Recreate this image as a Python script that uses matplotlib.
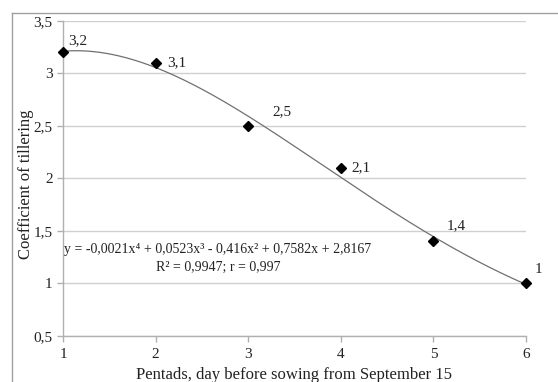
import numpy as np
import matplotlib
matplotlib.use("Agg")
import matplotlib.pyplot as plt
from matplotlib.ticker import FuncFormatter, MultipleLocator
from matplotlib.lines import Line2D

# data
pentads = [1, 2, 3, 4, 5, 6]
tillering = [3.2, 3.1, 2.5, 2.1, 1.4, 1.0]
point_labels = ["3,2", "3,1", "2,5", "2,1", "1,4", "1"]
equation = "y = -0,0021x\u2074 + 0,0523x\u00b3 - 0,416x\u00b2 + 0,7582x + 2,8167"
stats = "R\u00b2 = 0,9947; r = 0,997"
x_label = "Pentads, day before sowing from September 15"
y_label = "Coefficient of tillering"

plt.rcParams['font.family'] = ['Liberation Serif', 'DejaVu Serif']

W, H = 558, 382
fig = plt.figure(figsize=(W / 100, H / 100), dpi=100)
fig.patch.set_facecolor('white')

# outer frame (clipped on right/bottom)
fx, fy = 12 / W, 1 - 13 / H
fig.add_artist(Line2D([fx, fx], [0, fy], transform=fig.transFigure, color='#a0a0a0', lw=1))
fig.add_artist(Line2D([fx, 1], [fy, fy], transform=fig.transFigure, color='#a0a0a0', lw=1))

left, right = 63 / W, 526 / W
bottom, top = (H - 336) / H, (H - 20.7) / H
ax = fig.add_axes([left, bottom, right - left, top - bottom])

ax.set_xlim(1, 6)
ax.set_ylim(0.5, 3.5)
ax.yaxis.set_major_locator(MultipleLocator(0.5))
ax.xaxis.set_major_locator(MultipleLocator(1))
fmt = FuncFormatter(lambda v, p: ("%g" % v).replace('.', ','))
ax.yaxis.set_major_formatter(fmt)
ax.xaxis.set_major_formatter(fmt)

ax.grid(axis='y', color='#d0d0d0', lw=1)
ax.set_axisbelow(True)
for s in ['top', 'right']:
    ax.spines[s].set_visible(False)
for s in ['left', 'bottom']:
    ax.spines[s].set_color('#b0b0b0')
    ax.spines[s].set_linewidth(1)
ax.tick_params(axis='both', colors='#b0b0b0', length=4, width=1, labelcolor='#222222', labelsize=11)
ax.tick_params(axis='x', pad=5)

# trendline from polynomial fit of degree 4
coef = np.polyfit(pentads, tillering, 4)
xs = np.linspace(1, 6, 300)
ax.plot(xs, np.polyval(coef, xs), color='#707070', lw=0.9, zorder=2, clip_on=False)

ax.plot(pentads, tillering, linestyle='none', marker='D', ms=5.5, color='black', zorder=3, clip_on=False)

px = 72 / 100  # pixels -> points
offsets_px = [(5, 12), (12, 0), (24, 14), (11, 0), (13, 16), (9, 14)]
for xv, yv, lab, (dx, dy) in zip(pentads, tillering, point_labels, offsets_px):
    ax.annotate(lab, (xv, yv), xytext=(dx * px, dy * px), textcoords='offset points', fontsize=11,
                ha='left', va='center', color='#222222')

ax.text(2.674, 1.32, equation, fontsize=10, ha='center', va='center', color='#222222')
ax.text(2.674, 1.155, stats, fontsize=10, ha='center', va='center', color='#222222')

ax.set_xlabel(x_label, fontsize=12, color='#222222', labelpad=4)
ax.set_ylabel(y_label, fontsize=12, color='#222222', va='center')
ax.yaxis.set_label_coords((26 - 63) / 463, 0.482)

fig.savefig('out.png', dpi=100, facecolor='white')
